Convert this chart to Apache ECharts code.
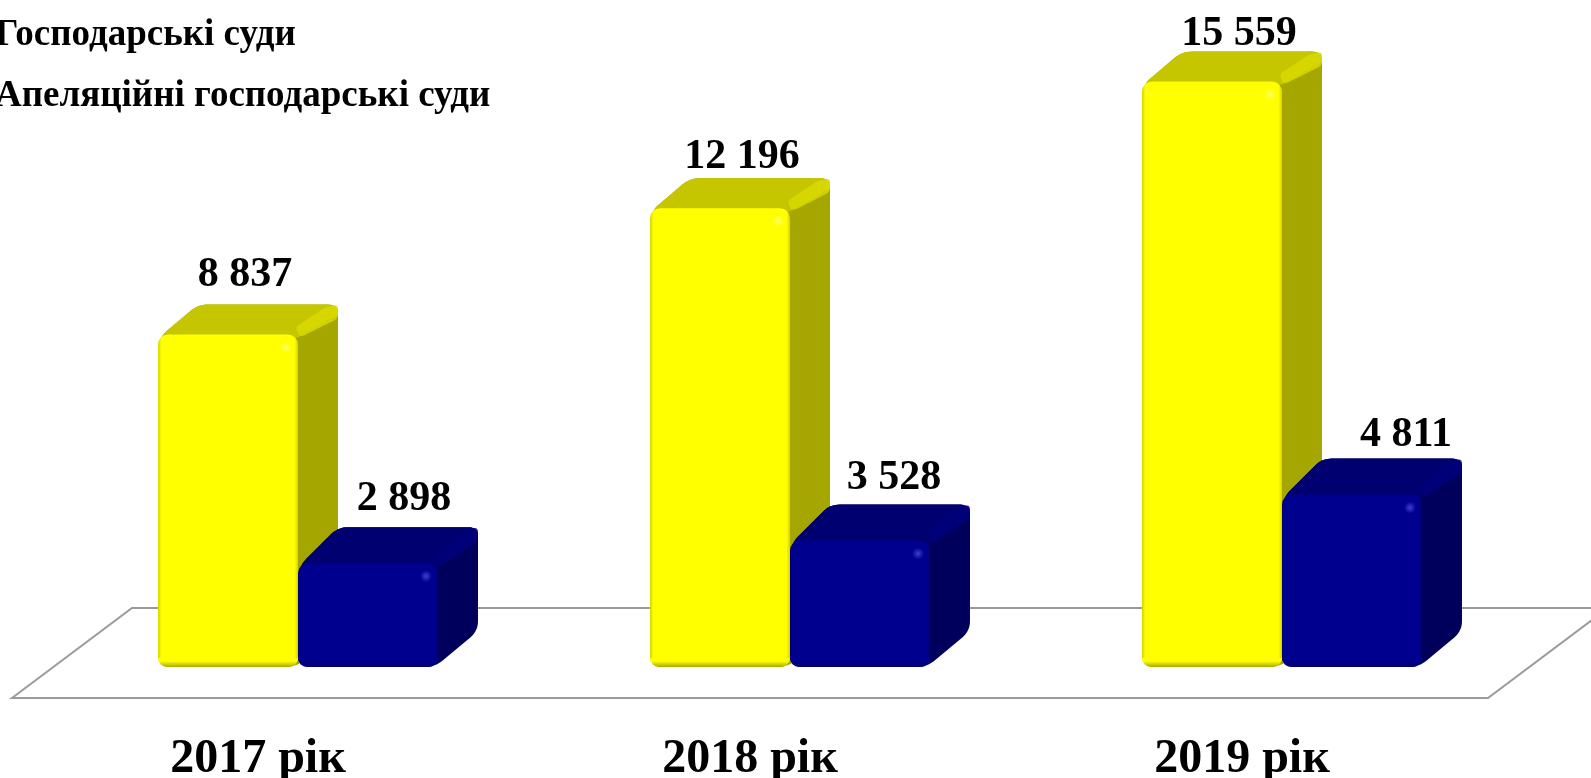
<!DOCTYPE html>
<html><head><meta charset="utf-8">
<style>html,body{margin:0;padding:0;background:#fff;overflow:hidden}#c{width:1591px;height:778px}</style>
<script src="https://cdn.jsdelivr.net/npm/echarts@6/dist/echarts.min.js"></script>
</head><body><div id="c"></div>
<script>
const categories = ['2017 рік', '2018 рік', '2019 рік'];
const commercialCourts = [8837, 12196, 15559];
const appealCourts = [2898, 3528, 4811];
const seriesNames = ['Господарські суди', 'Апеляційні господарські суди'];

// Layout only: hand-placed label offsets of the original (dx from bar front centre, gap above bar top to baseline)
const labelDxYellow = [17, 22, 27], labelGapYellow = [38, 30, 26];
const labelDxBlue = [36, 34, 54], labelGapBlue = [43, 41, 38];
const FONT = '"Liberation Serif","Times New Roman",serif';
const paletteYellow = {front:'#ffff00', edge:'#d4d400', bottom:'#a8a800', top:'#c6c600', side:'#a6a600', strip:'#d8d800', glint:'rgba(255,255,130,.8)', glint0:'rgba(255,255,130,0)'};
const paletteBlue = {front:'#00008e', edge:'#000078', bottom:'#000070', top:'#000070', side:'#00005c', strip:'#00007a', glint:'rgba(70,70,220,.9)', glint0:'rgba(70,70,220,0)'};

function roundedPoly(pts, r) {
  const out = [], n = pts.length;
  for (let i = 0; i < n; i++) {
    const p = pts[i], a = pts[(i + n - 1) % n], b = pts[(i + 1) % n];
    const la = Math.hypot(a[0]-p[0], a[1]-p[1]), lb = Math.hypot(b[0]-p[0], b[1]-p[1]);
    const ra = Math.min(r, la/2), rb = Math.min(r, lb/2);
    const s = [p[0]+(a[0]-p[0])*ra/la, p[1]+(a[1]-p[1])*ra/la];
    const e = [p[0]+(b[0]-p[0])*rb/lb, p[1]+(b[1]-p[1])*rb/lb];
    for (let k = 0; k <= 8; k++) {
      const t = k/8, u = 1-t;
      out.push([u*u*s[0]+2*u*t*p[0]+t*t*e[0], u*u*s[1]+2*u*t*p[1]+t*t*e[1]]);
    }
  }
  return out;
}
const fmt = v => String(v).replace(/\B(?=(\d{3})+$)/g, ' ');

function grad(x0, y0, x1, y1, stops) {
  return {type:'linear', x:x0, y:y0, x2:x1, y2:y1, colorStops:stops.map(s=>({offset:s[0], color:s[1]}))};
}

function barRenderer(pal, shiftBands, depthY, dxs, gaps) {
  return function (params, api) {
    const i = api.value(0), v = api.value(1);
    const band = api.size([1, 0])[0];
    const w = band * 140 / 492, dx = band * 40 / 492;
    const base = api.coord([i, 0]), topPt = api.coord([i, v]);
    const x = base[0] + band * shiftBands, y0 = base[1], y1 = topPt[1], h = y0 - y1;
    const r = 10, d = depthY, xr = x + w + dx;
    const sil = roundedPoly([[x+1, y1+3],[x+dx, y1-d],[xr, y1-d],[xr, y0-d],[x+w-3, y0],[x+8, y0-3]], 10);
    const top = sil.slice(0, 27).concat([[x+w, y1+3]]);
    const strip = roundedPoly([[x+w-3, y1-7],[xr-13, y1-d+3],[xr, y1-d],[xr, y1-d+14],[x+w+2, y1+3]], 5);
    const children = [
      {type:'polygon', shape:{points:sil}, style:{fill:pal.side}},
      {type:'polygon', shape:{points:top}, style:{fill:pal.top}},
      {type:'polygon', shape:{points:strip}, style:{fill:pal.strip, opacity:.85}},
      {type:'rect', shape:{x:x, y:y1, width:w, height:h, r:r},
        style:{fill:grad(0,0,1,0,[[0,pal.edge],[.025,pal.front],[.975,pal.front],[1,pal.edge]])}},
      {type:'rect', shape:{x:x, y:y0-9, width:w, height:9, r:[0,0,r,r]},
        style:{fill:grad(0,0,0,1,[[0,pal.front],[.35,pal.front],[1,pal.bottom]])}},
      {type:'circle', shape:{cx:x+w-12, cy:y1+13, r:6},
        style:{fill:{type:'radial', x:.5, y:.5, r:.5, colorStops:[{offset:0,color:pal.glint},{offset:1,color:pal.glint0}]}}},
      {type:'text', x:x+w/2+dxs[i], y:y1-gaps[i],
        style:{text:fmt(v), font:'bold 42px '+FONT, fill:'#000', textAlign:'center', textVerticalAlign:'bottom', lineHeight:42}}
    ];
    return {type:'group', children:children};
  };
}

function floorRenderer(params, api) {
  const c = params.coordSys, bot = c.y + c.height;
  const pts = [[c.x, bot+31],[c.x+120, bot-59],[c.x+c.width+120, bot-59],[c.x+c.width, bot+31]];
  return {type:'polygon', shape:{points:pts}, style:{fill:'#fff', stroke:'#9a9a9a', lineWidth:2}, silent:true};
}

const chart = echarts.init(document.getElementById('c'), null, {renderer:'canvas'});
chart.setOption({
  animation:false,
  backgroundColor:'#fff',
  grid:{left:12, width:1476, top:65, bottom:111, containLabel:false, outerBoundsMode:'none'},
  legend:{
    orient:'vertical', left:-32, top:17, padding:0, itemGap:24, itemWidth:22, itemHeight:22,
    data:seriesNames, selectedMode:false, itemStyle:{borderWidth:0},
    textStyle:{fontFamily:FONT, fontWeight:'bold', fontSize:37, color:'#000', lineHeight:37}
  },
  xAxis:{type:'category', data:categories,
    axisLine:{show:false}, axisTick:{show:false}, splitLine:{show:false},
    axisLabel:{margin:69, fontFamily:FONT, fontWeight:'bold', fontSize:48, color:'#000', interval:0}},
  yAxis:[
    {type:'value', min:0, max:16000, show:false, splitLine:{show:false}},
    {type:'value', min:0, max:16800, show:false, splitLine:{show:false}}
  ],
  series:[
    {type:'custom', name:'floor', z:1, clip:false, data:[[0,0]], renderItem:floorRenderer, encode:{x:0,y:1}, silent:true},
    {type:'custom', name:seriesNames[0], z:2, clip:false, itemStyle:{color:'#ffff00'},
      data:commercialCourts.map((v,i)=>[i,v]), encode:{x:0,y:1}, yAxisIndex:0,
      renderItem:barRenderer(paletteYellow, -100/492, 30, labelDxYellow, labelGapYellow)},
    {type:'custom', name:seriesNames[1], z:3, clip:false, itemStyle:{color:'#000090'},
      data:appealCourts.map((v,i)=>[i,v]), encode:{x:0,y:1}, yAxisIndex:1,
      renderItem:barRenderer(paletteBlue, 40/492, 36, labelDxBlue, labelGapBlue)}
  ]
});
</script></body></html>
